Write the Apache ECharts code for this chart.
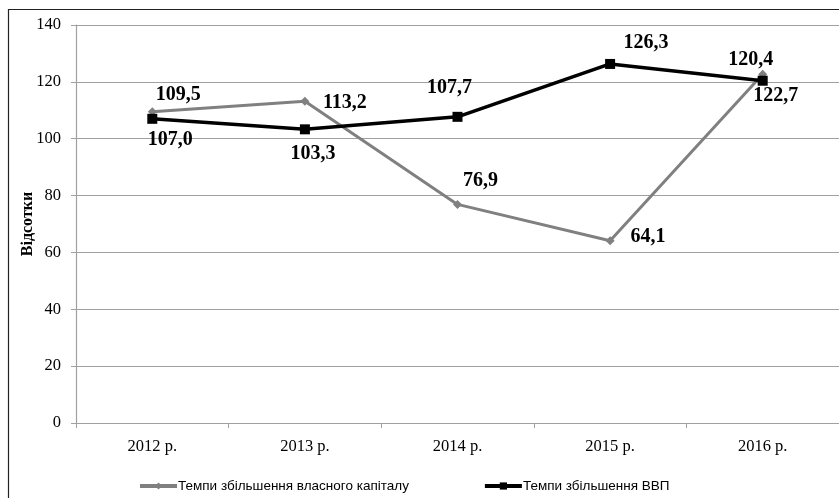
<!DOCTYPE html>
<html>
<head>
<meta charset="utf-8">
<script src="https://cdn.jsdelivr.net/npm/echarts@6/dist/echarts.min.js"></script>
<style>
html,body{margin:0;padding:0;background:#fff;}
#chart{width:839px;height:498px;}
</style>
</head>
<body>
<div id="chart"></div>
<script>
const categories = ['2012 р.', '2013 р.', '2014 р.', '2015 р.', '2016 р.'];
const equityGrowth = [109.5, 113.2, 76.9, 64.1, 122.7];
const gdpGrowth = [107.0, 103.3, 107.7, 126.3, 120.4];
const yTicks = [0, 20, 40, 60, 80, 100, 120, 140];
const seriesNames = ['Темпи збільшення власного капіталу', 'Темпи збільшення ВВП'];
const yAxisName = 'Відсотки';

// label placement (styling, not data)
const equityLabelOffsets = [[26, -17], [40, 2], [23, -24], [38, -4], [13, 22]];
const gdpLabelOffsets = [[18, 21], [8, 24], [-8, -29], [36, -21], [-12, -21]];

const fmt = v => v.toFixed(1).replace('.', ',');
const labelStyle = {
  show: true,
  position: 'inside',
  fontFamily: '"Liberation Serif", "Times New Roman", serif',
  fontWeight: 'bold',
  fontSize: 20,
  color: '#000'
};

function buildData(values, offsets) {
  return values.map((v, i) => ({
    value: v,
    label: Object.assign({}, labelStyle, {offset: offsets[i], formatter: () => fmt(v)})
  }));
}

const chart = echarts.init(document.getElementById('chart'), null, {renderer: 'canvas'});
chart.setOption({
  animation: false,
  backgroundColor: '#fff',
  graphic: [{
    type: 'rect',
    shape: {x: 8.5, y: 9.5, width: 900, height: 600},
    style: {fill: 'none', stroke: '#222', lineWidth: 1.2},
    z: -10
  }],
  grid: {left: 76, top: 25, right: 0, bottom: 75, containLabel: false},
  legend: {
    left: 133,
    top: 474,
    itemWidth: 37,
    itemHeight: 9,
    itemGap: 74,
    lineStyle: {width: 4},
    textStyle: {fontFamily: '"Liberation Sans", Arial, sans-serif', fontSize: 13.5, color: '#000', padding: [0,0,0,-4]},
    data: seriesNames
  },
  xAxis: {
    type: 'category',
    data: categories,
    boundaryGap: true,
    axisLine: {lineStyle: {color: '#a0a0a0', width: 1.2}},
    axisTick: {show: true, inside: false, length: 5, lineStyle: {color: '#a0a0a0'}},
    axisLabel: {fontFamily: '"Liberation Serif", "Times New Roman", serif', fontSize: 16.5, color: '#000', margin: 15},
    splitLine: {show: false}
  },
  yAxis: {
    type: 'value',
    min: yTicks[0],
    max: yTicks[yTicks.length - 1],
    interval: 20,
    name: yAxisName,
    nameLocation: 'middle',
    nameGap: 40,
    nameMoveOverlap: false,
    nameTextStyle: {fontFamily: '"Liberation Serif", "Times New Roman", serif', fontWeight: 'bold', fontSize: 16, color: '#000'},
    axisLine: {show: true, lineStyle: {color: '#a0a0a0', width: 1.2}},
    axisTick: {show: true, inside: false, length: 5, lineStyle: {color: '#a0a0a0'}},
    axisLabel: {fontFamily: '"Liberation Serif", "Times New Roman", serif', fontSize: 16.5, color: '#000', margin: 15},
    splitLine: {show: true, lineStyle: {color: '#a0a0a0', width: 1.2}}
  },
  series: [
    {
      name: seriesNames[0],
      type: 'line',
      data: buildData(equityGrowth, equityLabelOffsets),
      symbol: 'diamond',
      symbolSize: 9,
      showAllSymbol: true,
      lineStyle: {color: '#808080', width: 3},
      itemStyle: {color: '#808080'},
      z: 2
    },
    {
      name: seriesNames[1],
      type: 'line',
      data: buildData(gdpGrowth, gdpLabelOffsets),
      symbol: 'rect',
      symbolSize: 10,
      showAllSymbol: true,
      lineStyle: {color: '#000', width: 3.5},
      itemStyle: {color: '#000'},
      z: 3
    }
  ]
});
</script>
</body>
</html>
